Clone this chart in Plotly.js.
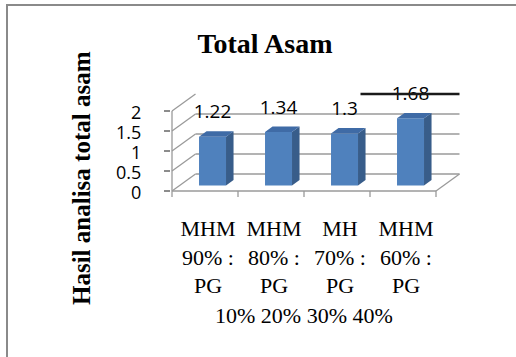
<!DOCTYPE html>
<html>
<head>
<meta charset="utf-8">
<script src="https://cdn.plot.ly/plotly-3.0.1.min.js"></script>
<style>
  html, body { margin: 0; padding: 0; background: #fff; }
  #wrap { position: relative; width: 516px; height: 357px; overflow: hidden; }
  #chart { position: absolute; left: 0; top: 0; width: 516px; height: 357px; }
  #frame {
    position: absolute; left: 6px; top: 4px; right: -4px; bottom: -4px;
    border-left: 2px solid #8a8a8a; border-top: 2px solid #8a8a8a;
    pointer-events: none;
  }
</style>
</head>
<body>
<div id="wrap">
  <div id="chart"></div>
  <div id="frame"></div>
</div>
<script>
// Category label lines (the chart wraps each category name over several lines)
const labelLine1 = ['MHM', 'MHM', 'MH', 'MHM'];
const labelLine2 = ['90% :', '80% :', '70% :', '60% :'];
const labelLine3 = ['PG', 'PG', 'PG', 'PG'];
const labelLine4 = ['10%', '20%', '30%', '40%'];

// Hasil analisa total asam per formula
const totalAsam = [1.22, 1.34, 1.3, 1.68];

// Value axis ticks
const yTicks = [0, 0.5, 1, 1.5, 2];

// ---- 3D look: depth of the box and of each bar (axis units) ----
const DX = 23.5 / 66;      // depth shift along x
const DY = 17 / 40;        // depth shift along y
const BAR_W = 27 / 66;     // width of a bar's front face
const BAR_POS = 0.32;      // where the bar's front face sits inside the depth
const BAR_DEPTH = 0.32;    // bar depth as a fraction of the box depth
const LABEL_GAP = 0.58;    // value label distance above the bar's front top

const idx = totalAsam.map((_, i) => i);
const nCat = totalAsam.length;
const xLeft = -0.5, xRight = nCat - 0.5;
const yMax = yTicks[yTicks.length - 1];

const ox = BAR_POS * DX, oy = BAR_POS * DY;
const bdx = BAR_DEPTH * DX, bdy = BAR_DEPTH * DY;

const gridColor = '#9a9a9a';
const gridW = 1.3;

// Walls and floor of the box
const shapes = [];
function seg(x0, y0, x1, y1, color, width, layer) {
  shapes.push({ type: 'line', xref: 'x', yref: 'y', x0, y0, x1, y1,
    layer: layer || 'below', line: { color: color || gridColor, width: width || gridW } });
}
seg(xLeft, 0, xLeft, yMax);                       // front-left edge of the side wall
yTicks.forEach(v => {
  seg(xLeft, v, xLeft + DX, v + DY);              // side-wall gridline
  if (v < yMax) seg(xLeft + DX, v + DY, xRight + DX, v + DY);   // back-wall gridline
});
seg(xLeft, 0, xRight, 0);                         // floor front edge
seg(xRight, 0, xRight + DX, DY);                  // floor right edge
for (let b = xLeft; b <= xRight + 1e-9; b += 1) seg(b, 0, b, -0.15);   // category dividers
seg(2 + DX, yMax + DY, xRight + DX, yMax + DY, '#1a1a1a', 2.6, 'above');

// Side faces and top caps of the bars
const sideX = [], sideY = [], capX = [], capY = [];
totalAsam.forEach((v, i) => {
  const xl = i + ox - BAR_W / 2, xr = i + ox + BAR_W / 2;
  const y0 = oy, y1 = oy + v;
  sideX.push(xr, xr, xr + bdx, xr + bdx, xr, null);
  sideY.push(y0, y1, y1 + bdy, y0 + bdy, y0, null);
  capX.push(xl, xr, xr + bdx, xl + bdx, xl, null);
  capY.push(y1, y1, y1 + bdy, y1 + bdy, y1, null);
});

const traces = [
  { type: 'bar', x: idx.map(i => i + ox), y: totalAsam, base: oy, width: BAR_W,
    marker: { color: '#4f81bd', line: { width: 0 } }, hoverinfo: 'skip' },
  { type: 'scatter', mode: 'lines', x: sideX, y: sideY, fill: 'toself',
    fillcolor: '#385d8a', line: { width: 0, color: '#385d8a' }, hoverinfo: 'skip' },
  { type: 'scatter', mode: 'lines', x: capX, y: capY, fill: 'toself',
    fillcolor: '#3f6ba6', line: { width: 0, color: '#3f6ba6' }, hoverinfo: 'skip' },
  { type: 'scatter', mode: 'text', x: idx.map(i => i + ox), y: totalAsam.map(v => v + oy + LABEL_GAP),
    text: totalAsam.map(v => String(v)), textposition: 'middle center', cliponaxis: false,
    textfont: { family: 'Open Sans, sans-serif', size: 19, color: '#000' }, hoverinfo: 'skip' }
];

const plotL = 171, plotR = 472, plotT = 85, plotB = 201;
const W = 516, H = 357;
const pxX = 66, pxY = 40;
const xRange = [xLeft - (172 - plotL) / pxX, xLeft - (172 - plotL) / pxX + (plotR - plotL) / pxX];
const yRange = [-(plotB - 191) / pxY, (191 - plotT) / pxY];

const layout = {
  width: W, height: H,
  margin: { l: plotL, r: W - plotR, t: plotT, b: H - plotB, pad: 0 },
  paper_bgcolor: '#fff', plot_bgcolor: 'rgba(0,0,0,0)',
  showlegend: false,
  title: { text: 'Total Asam', x: 265 / W, xref: 'container', xanchor: 'center',
    y: 1 - 43 / H, yref: 'container', yanchor: 'middle',
    font: { family: 'Liberation Serif, serif', size: 28, color: '#000', weight: 'bold' } },
  xaxis: { range: xRange, tickmode: 'array', tickvals: idx,
    ticktext: idx.map(i => [labelLine1[i], labelLine2[i], labelLine3[i]].join('<br>')),
    ticks: '', showgrid: false, zeroline: false, showline: false, ticklabelstandoff: 12,
    ticklabelshift: 3,
    tickfont: { family: 'Liberation Serif, serif', size: 22, color: '#000' }, fixedrange: true },
  yaxis: { range: yRange, tickmode: 'array', tickvals: yTicks, ticktext: yTicks.map(String),
    ticks: 'outside', ticklen: 6, tickwidth: 1.3, tickcolor: '#8c8c8c',
    showgrid: false, zeroline: false, showline: false, ticklabelstandoff: 19,
    ticklabelshift: 2,
    tickfont: { family: 'Open Sans, sans-serif', size: 18, color: '#000' }, fixedrange: true },
  shapes: shapes,
  annotations: [
    { text: 'Hasil analisa total asam', textangle: -90, showarrow: false,
      xref: 'paper', yref: 'paper', x: (81 - plotL) / (plotR - plotL), y: (plotB - 178) / (plotB - plotT),
      xanchor: 'center', yanchor: 'middle',
      font: { family: 'Liberation Serif, serif', size: 25, color: '#000', weight: 'bold' } },
    { text: labelLine4.join(' '), showarrow: false,
      xref: 'x', yref: 'paper', x: (nCat - 1) / 2, y: (plotB - 315) / (plotB - plotT),
      xanchor: 'center', yanchor: 'middle',
      font: { family: 'Liberation Serif, serif', size: 22, color: '#000' } }
  ]
};

Plotly.newPlot('chart', traces, layout, { displayModeBar: false, staticPlot: true });
</script>
</body>
</html>
